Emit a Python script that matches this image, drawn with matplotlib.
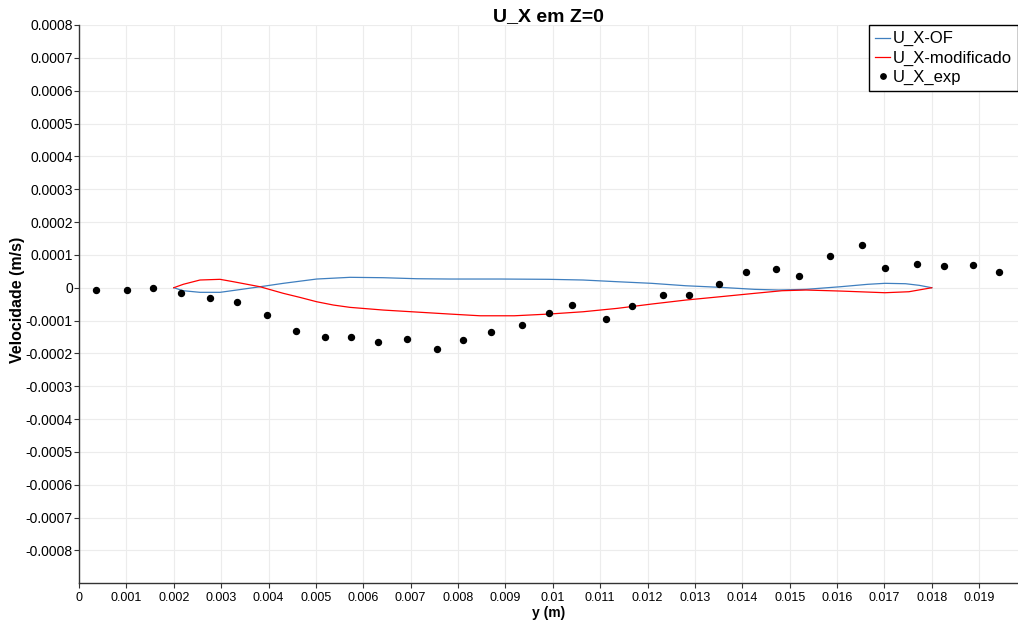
import matplotlib
matplotlib.use("Agg")
import matplotlib.pyplot as plt
from matplotlib.ticker import MultipleLocator, FuncFormatter

plt.rcParams['font.family'] = ['Liberation Sans', 'DejaVu Sans']

# --- data ---
of_y = [0.002, 0.0022, 0.002554, 0.002977, 0.003329, 0.003821, 0.004313, 0.005018,
        0.005721, 0.006424, 0.007129, 0.007832, 0.008888, 0.009914, 0.010638, 0.011362,
        0.012086, 0.01281, 0.013534, 0.014258, 0.014767, 0.015345, 0.016069, 0.016648,
        0.017011, 0.017446, 0.017735, 0.018]
of_u = [0.0, -0.0000091, -0.000014, -0.000014, -0.000007, 0.000003, 0.0000134, 0.0000265,
        0.0000317, 0.0000305, 0.0000274, 0.0000265, 0.0000265, 0.0000256, 0.0000235, 0.0000183,
        0.0000134, 0.000006, 0.0000012, -0.0000049, -0.000007, -0.0000049, 0.000003, 0.0000104,
        0.0000134, 0.0000122, 0.0000073, 0.0]

mod_y = [0.002, 0.0022, 0.002554, 0.002977, 0.003259, 0.003821, 0.004313, 0.00466,
         0.005018, 0.005369, 0.005721, 0.006424, 0.007129, 0.007832, 0.008466, 0.009189,
         0.009914, 0.010638, 0.011362, 0.012086, 0.01281, 0.013534, 0.014258, 0.014839,
         0.015345, 0.016069, 0.017011, 0.017517, 0.018]
mod_u = [0.0, 0.0000104, 0.0000235, 0.0000256, 0.0000183, 0.000003, -0.0000171, -0.0000293,
         -0.0000427, -0.0000527, -0.0000598, -0.000068, -0.0000741, -0.0000802, -0.0000854, -0.0000854,
         -0.0000802, -0.0000732, -0.0000628, -0.0000497, -0.0000375, -0.0000274, -0.0000171, -0.0000091,
         -0.000007, -0.0000101, -0.0000152, -0.0000122, 0.0]

exp_y = [0.000359, 0.001013, 0.001569, 0.002153, 0.002759, 0.003335, 0.003962, 0.004587,
         0.005187, 0.005748, 0.006306, 0.006931, 0.007557, 0.008113, 0.008691, 0.00935,
         0.009928, 0.010414, 0.011117, 0.011674, 0.012324, 0.012875, 0.013506, 0.014078,
         0.014708, 0.015193, 0.015845, 0.016519, 0.017011, 0.017678, 0.018256, 0.018879,
         0.019415]
exp_u = [-0.000007, -0.000007, 0.0, -0.000017, -0.00003, -0.000044, -0.000084, -0.000133,
         -0.000151, -0.000151, -0.000165, -0.000156, -0.000187, -0.00016, -0.000134, -0.000112,
         -0.000076, -0.000054, -0.000095, -0.000055, -0.000023, -0.000023, 0.000012, 0.000048,
         0.000056, 0.000035, 0.000097, 0.000131, 0.00006, 0.000073, 0.000065, 0.000069,
         0.000047]

title = "U_X em Z=0"
xlabel = "y (m)"
ylabel = "Velocidade (m/s)"
labels = ["U_X-OF", "U_X-modificado", "U_X_exp"]

# --- figure ---
W, H = 1018, 626
fig = plt.figure(figsize=(W / 100, H / 100), dpi=100)
ax = fig.add_axes([79 / W, 1 - 583.3 / H, (W - 79) / W, (583.3 - 25) / H])

ax.plot(of_y, of_u, color='#3f7fbf', lw=0.9, label=labels[0], zorder=3)
ax.plot(mod_y, mod_u, color='#ff0000', lw=0.9, label=labels[1], zorder=3)
ax.plot(exp_y, exp_u, 'o', color='black', ms=4.3, label=labels[2], zorder=4)

ax.set_xlim(0, 0.01982)
ax.set_ylim(-0.0009, 0.0008)
ax.xaxis.set_major_locator(MultipleLocator(0.001))
ax.yaxis.set_major_locator(MultipleLocator(0.0001))

def fmt(v, pos):
    s = f"{v:.4f}".rstrip('0').rstrip('.')
    if s in ('-0', ''):
        s = '0'
    return s

def fmtx(v, pos):
    s = f"{v:.3f}".rstrip('0').rstrip('.')
    if s in ('-0', ''):
        s = '0'
    return s

ax.xaxis.set_major_formatter(FuncFormatter(fmtx))
ax.yaxis.set_major_formatter(FuncFormatter(fmt))
yt = [t for t in ax.get_yticks() if -0.00085 < t < 0.00085]
ax.set_yticks(yt)

ax.grid(True, color='#ececec', lw=0.8, zorder=0)
ax.set_axisbelow(True)
for s in ['top', 'right']:
    ax.spines[s].set_visible(False)
for s in ['left', 'bottom']:
    ax.spines[s].set_color('#333333')
    ax.spines[s].set_linewidth(1.0)
ax.tick_params(axis='both', direction='out', length=3.5, width=0.8, color='#333333')
ax.tick_params(axis='x', labelsize=9, pad=3)
ax.tick_params(axis='y', labelsize=10, pad=1)

ax.set_title(title, fontsize=14, fontweight='bold', pad=1)
ax.set_xlabel(xlabel, fontsize=10, fontweight='bold', labelpad=1)
ax.set_ylabel(ylabel, fontsize=11.5, fontweight='bold')
ax.yaxis.set_label_coords(-0.0575, 0.507)

leg = ax.legend(loc='upper right', bbox_to_anchor=(1.0, 1.0), borderaxespad=0,
                fontsize=12, handlelength=0.9, handletextpad=0.15, labelspacing=0.25,
                borderpad=0.38, fancybox=False, frameon=True, markerscale=0.9)
leg.get_frame().set_edgecolor('black')
leg.get_frame().set_linewidth(1.0)
leg.get_frame().set_alpha(1)

fig.savefig("out.png", dpi=100)
